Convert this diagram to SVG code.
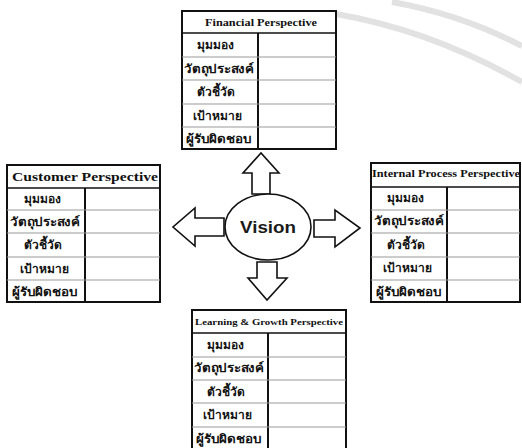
<svg xmlns="http://www.w3.org/2000/svg" width="522" height="448" viewBox="0 0 522 448">
<style>
.bg{fill:#fff}
.outer{fill:#fff;stroke:#111;stroke-width:2}
.hd{stroke:#111;stroke-width:1.5}
.div{stroke:#111;stroke-width:2}
.row{stroke:#999;stroke-width:1.2}
.h{font-family:"Liberation Serif","Noto Serif",serif;font-weight:bold;fill:#111;text-anchor:middle}
.t{font-family:"Liberation Serif","Noto Sans","DejaVu Sans",serif;font-weight:bold;font-size:12px;fill:#111;text-anchor:middle}
.arr{fill:#fff;stroke:#111;stroke-width:1.6;stroke-linejoin:miter}
.wm{fill:none;stroke:#e2e2e2;stroke-width:6}
</style>
<rect class="bg" x="0" y="0" width="522" height="448"/>
<g id="watermark">
<path class="wm" d="M336,14 Q430,30 522,82"/>
<path class="wm" d="M392,2 Q460,14 522,46"/>
</g>
<g id="financial">
<rect class="outer" x="182" y="11" width="154" height="138"/>
<line class="hd" x1="182" y1="33" x2="336" y2="33"/>
<line class="div" x1="258" y1="33" x2="258" y2="149"/>
<line class="row" x1="182" y1="57" x2="336" y2="57"/>
<line class="row" x1="182" y1="80" x2="336" y2="80"/>
<line class="row" x1="182" y1="104" x2="336" y2="104"/>
<line class="row" x1="182" y1="127" x2="336" y2="127"/>
<text class="h" x="261" y="26" font-size="10.5" textLength="112" lengthAdjust="spacingAndGlyphs">Financial Perspective</text>
<text class="t" x="215" y="49">มุมมอง</text>
<text class="t" x="219" y="73" textLength="70" lengthAdjust="spacingAndGlyphs">วัตถุประสงค์</text>
<text class="t" x="216" y="96">ตัวชี้วัด</text>
<text class="t" x="217" y="120">เป้าหมาย</text>
<text class="t" x="219" y="143" textLength="66" lengthAdjust="spacingAndGlyphs">ผู้รับผิดชอบ</text>
</g>
<g id="customer">
<rect class="outer" x="7" y="165" width="153" height="137"/>
<line class="hd" x1="7" y1="188" x2="160" y2="188"/>
<line class="div" x1="85" y1="188" x2="85" y2="302"/>
<line class="row" x1="7" y1="210" x2="160" y2="210"/>
<line class="row" x1="7" y1="233" x2="160" y2="233"/>
<line class="row" x1="7" y1="257" x2="160" y2="257"/>
<line class="row" x1="7" y1="280" x2="160" y2="280"/>
<text class="h" x="85" y="181" font-size="13" textLength="146" lengthAdjust="spacingAndGlyphs">Customer Perspective</text>
<text class="t" x="42" y="203">มุมมอง</text>
<text class="t" x="45" y="226" textLength="70" lengthAdjust="spacingAndGlyphs">วัตถุประสงค์</text>
<text class="t" x="43" y="249">ตัวชี้วัด</text>
<text class="t" x="44" y="273">เป้าหมาย</text>
<text class="t" x="45" y="296" textLength="66" lengthAdjust="spacingAndGlyphs">ผู้รับผิดชอบ</text>
</g>
<g id="internal">
<rect class="outer" x="371" y="163" width="149" height="139"/>
<line class="hd" x1="371" y1="187" x2="520" y2="187"/>
<line class="div" x1="447" y1="187" x2="447" y2="302"/>
<line class="row" x1="371" y1="210" x2="520" y2="210"/>
<line class="row" x1="371" y1="233" x2="520" y2="233"/>
<line class="row" x1="371" y1="257" x2="520" y2="257"/>
<line class="row" x1="371" y1="280" x2="520" y2="280"/>
<text class="h" x="446" y="177" font-size="10" textLength="148" lengthAdjust="spacingAndGlyphs">Internal Process Perspective</text>
<text class="t" x="405" y="202">มุมมอง</text>
<text class="t" x="409" y="225" textLength="70" lengthAdjust="spacingAndGlyphs">วัตถุประสงค์</text>
<text class="t" x="406" y="249">ตัวชี้วัด</text>
<text class="t" x="407" y="272">เป้าหมาย</text>
<text class="t" x="409" y="296" textLength="66" lengthAdjust="spacingAndGlyphs">ผู้รับผิดชอบ</text>
</g>
<g id="learning">
<rect class="outer" x="192" y="310" width="154" height="140"/>
<line class="hd" x1="192" y1="333" x2="346" y2="333"/>
<line class="div" x1="268" y1="333" x2="268" y2="450"/>
<line class="row" x1="192" y1="357" x2="346" y2="357"/>
<line class="row" x1="192" y1="380" x2="346" y2="380"/>
<line class="row" x1="192" y1="403" x2="346" y2="403"/>
<line class="row" x1="192" y1="427" x2="346" y2="427"/>
<text class="h" x="269" y="325" font-size="9" textLength="148" lengthAdjust="spacingAndGlyphs">Learning &amp; Growth Perspective</text>
<text class="t" x="225" y="349">มุมมอง</text>
<text class="t" x="229" y="372" textLength="70" lengthAdjust="spacingAndGlyphs">วัตถุประสงค์</text>
<text class="t" x="226" y="396">ตัวชี้วัด</text>
<text class="t" x="227" y="419">เป้าหมาย</text>
<text class="t" x="229" y="443" textLength="66" lengthAdjust="spacingAndGlyphs">ผู้รับผิดชอบ</text>
</g>
<g id="connectors">
<polygon class="arr" points="252,194 252,173 243,173 261,153 279,173 270,173 270,194"/>
<polygon class="arr" points="224,218 195,218 195,208 173,227 195,246 195,236 224,236"/>
<polygon class="arr" points="314,220 335,220 335,210 360,228 335,247 335,237 314,237"/>
<polygon class="arr" points="257,262 277,262 277,278 287,278 267,300 248,278 257,278"/>
</g>
<g id="vision">
<ellipse cx="268" cy="227" rx="43" ry="33" fill="#fff" stroke="#111" stroke-width="1.6"/>
<text x="268" y="233" font-family="Liberation Sans,Arial,sans-serif" font-weight="bold" font-size="17" fill="#1a1a1a" text-anchor="middle" textLength="56" lengthAdjust="spacingAndGlyphs">Vision</text>
</g>
</svg>
